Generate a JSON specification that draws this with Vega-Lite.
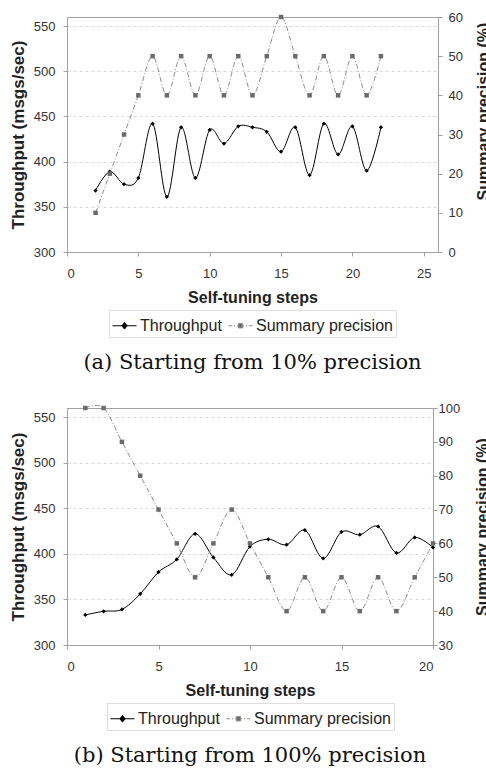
{
  "$schema": "https://vega.github.io/schema/vega-lite/v6.json",
  "background": "white",
  "autosize": {"type": "none"},
  "padding": {"left": 67, "top": 17, "right": 419, "bottom": 751},
  "datasets": {
    "a": [
      {"step": 2, "throughput": 368, "precision": 10},
      {"step": 3, "throughput": 389, "precision": 20},
      {"step": 4, "throughput": 375, "precision": 30},
      {"step": 5, "throughput": 382, "precision": 40},
      {"step": 6, "throughput": 442, "precision": 50},
      {"step": 7, "throughput": 361, "precision": 40},
      {"step": 8, "throughput": 438, "precision": 50},
      {"step": 9, "throughput": 382, "precision": 40},
      {"step": 10, "throughput": 435, "precision": 50},
      {"step": 11, "throughput": 420, "precision": 40},
      {"step": 12, "throughput": 439, "precision": 50},
      {"step": 13, "throughput": 438, "precision": 40},
      {"step": 14, "throughput": 433, "precision": 50},
      {"step": 15, "throughput": 411, "precision": 60},
      {"step": 16, "throughput": 438, "precision": 50},
      {"step": 17, "throughput": 385, "precision": 40},
      {"step": 18, "throughput": 442, "precision": 50},
      {"step": 19, "throughput": 408, "precision": 40},
      {"step": 20, "throughput": 439, "precision": 50},
      {"step": 21, "throughput": 390, "precision": 40},
      {"step": 22, "throughput": 438, "precision": 50}
    ],
    "b": [
      {"step": 1, "throughput": 333, "precision": 100},
      {"step": 2, "throughput": 337, "precision": 100},
      {"step": 3, "throughput": 339, "precision": 90},
      {"step": 4, "throughput": 356, "precision": 80},
      {"step": 5, "throughput": 380, "precision": 70},
      {"step": 6, "throughput": 394, "precision": 60},
      {"step": 7, "throughput": 422, "precision": 50},
      {"step": 8, "throughput": 396, "precision": 60},
      {"step": 9, "throughput": 377, "precision": 70},
      {"step": 10, "throughput": 408, "precision": 60},
      {"step": 11, "throughput": 416, "precision": 50},
      {"step": 12, "throughput": 410, "precision": 40},
      {"step": 13, "throughput": 426, "precision": 50},
      {"step": 14, "throughput": 395, "precision": 40},
      {"step": 15, "throughput": 424, "precision": 50},
      {"step": 16, "throughput": 421, "precision": 40},
      {"step": 17, "throughput": 430, "precision": 50},
      {"step": 18, "throughput": 401, "precision": 40},
      {"step": 19, "throughput": 418, "precision": 50},
      {"step": 20, "throughput": 407, "precision": 60}
    ]
  },
  "config": {
    "font": "Liberation Sans",
    "view": {"stroke": "#a0a0a0"},
    "axis": {
      "labelFont": "Liberation Sans", "labelFontSize": 13, "labelColor": "#333333", "labelOverlap": false,
      "titleFont": "Liberation Sans", "titleFontSize": 16, "titleFontWeight": "bold", "titleColor": "#222222",
      "domainColor": "#a0a0a0", "tickColor": "#a0a0a0", "tickSize": 4,
      "gridColor": "#d8d8d8", "gridDash": [3, 3]
    },
    "legend": {
      "orient": "bottom", "direction": "horizontal", "title": null,
      "labelFont": "Liberation Sans", "labelFontSize": 16, "labelColor": "#222222",
      "strokeColor": "#dddddd", "padding": 3, "symbolSize": 576, "symbolStrokeWidth": 1,
      "columnPadding": 4, "labelOffset": 3, "offset": 5,
      "layout": {"bottom": {"anchor": "middle"}}
    },
    "title": {"font": "DejaVu Serif", "fontSize": 21, "fontWeight": "normal", "color": "#111111"}
  },
  "spacing": 28,
  "resolve": {"scale": {"color": "independent"}, "legend": {"color": "independent"}},
  "vconcat": [
    {
      "width": 371, "height": 235,
      "title": {"text": "(a) Starting from 10% precision", "orient": "bottom", "offset": 14},
      "data": {"name": "a"},
      "resolve": {"scale": {"y": "independent"}},
      "layer": [
        {"layer": [
          {"mark": {"type": "line", "interpolate": "cardinal", "strokeWidth": 1},
           "encoding": {
             "x": {"field": "step", "type": "quantitative", "scale": {"domain": [0, 25]},
                   "axis": {"title": "Self-tuning steps", "values": [0, 5, 10, 15, 20, 25], "tickCount": 12, "grid": false, "labelPadding": 11, "titlePadding": 9, "labelOverlap": false}},
             "y": {"field": "throughput", "type": "quantitative", "scale": {"domain": [300, 550]},
                   "axis": {"title": "Throughput (msgs/sec)", "titleFontSize": 17, "values": [300, 350, 400, 450, 500, 550], "tickCount": 12, "grid": true, "labelPadding": 8, "titlePadding": 6, "labelOverlap": false}},
             "color": {"datum": "Throughput",
                       "scale": {"domain": ["Throughput", "Summary precision"], "range": ["#000000", "#8c8c8c"]},
                       "legend": {"encode": {"symbols": {"update": {
                         "shape": {"signal": "datum.value == 'Throughput' ? 'M-1,0H1M0,-0.28L0.22,0L0,0.28L-0.22,0Z' : 'M-1,0H-0.7M-0.55,0H-0.45M-0.3,0H-0.2M0.2,0H0.3M0.45,0H0.55M0.7,0H1M-0.18,-0.18H0.18V0.18H-0.18Z'"},
                         "fill": {"signal": "datum.value == 'Throughput' ? '#000000' : '#6a6a6a'"},
                         "strokeDash": {"value": []}
                       }}}}}
           }},
          {"mark": {"type": "point", "shape": "diamond", "filled": true, "color": "#000000", "size": 18, "opacity": 1},
           "encoding": {"x": {"field": "step", "type": "quantitative"}, "y": {"field": "throughput", "type": "quantitative"}}}
        ]},
        {"layer": [
          {"mark": {"type": "line", "interpolate": "cardinal", "strokeWidth": 1, "strokeDash": [5, 2, 1, 2]},
           "encoding": {
             "x": {"field": "step", "type": "quantitative"},
             "y": {"field": "precision", "type": "quantitative", "scale": {"domain": [0, 60]},
                   "axis": {"orient": "right", "title": "Summary precision (%)", "values": [0, 10, 20, 30, 40, 50, 60], "tickCount": 12, "grid": false, "labelPadding": 6, "titleAngle": 270, "titlePadding": 29, "titleY": 94, "labelOverlap": false}},
             "color": {"datum": "Summary precision"}
           }},
          {"mark": {"type": "point", "shape": "square", "filled": true, "color": "#6a6a6a", "size": 20, "opacity": 1},
           "encoding": {"x": {"field": "step", "type": "quantitative"}, "y": {"field": "precision", "type": "quantitative"}}}
        ]}
      ]
    },
    {
      "width": 366, "height": 237,
      "title": {"text": "(b) Starting from 100% precision", "orient": "bottom", "offset": 14},
      "data": {"name": "b"},
      "resolve": {"scale": {"y": "independent"}},
      "layer": [
        {"layer": [
          {"mark": {"type": "line", "interpolate": "cardinal", "strokeWidth": 1},
           "encoding": {
             "x": {"field": "step", "type": "quantitative", "scale": {"domain": [0, 20]},
                   "axis": {"title": "Self-tuning steps", "values": [0, 5, 10, 15, 20], "tickCount": 12, "grid": false, "labelPadding": 11, "titlePadding": 9, "labelOverlap": false}},
             "y": {"field": "throughput", "type": "quantitative", "scale": {"domain": [300, 550]},
                   "axis": {"title": "Throughput (msgs/sec)", "titleFontSize": 17, "values": [300, 350, 400, 450, 500, 550], "tickCount": 12, "grid": true, "labelPadding": 8, "titlePadding": 6, "labelOverlap": false}},
             "color": {"datum": "Throughput",
                       "scale": {"domain": ["Throughput", "Summary precision"], "range": ["#000000", "#8c8c8c"]},
                       "legend": {"encode": {"symbols": {"update": {
                         "shape": {"signal": "datum.value == 'Throughput' ? 'M-1,0H1M0,-0.28L0.22,0L0,0.28L-0.22,0Z' : 'M-1,0H-0.7M-0.55,0H-0.45M-0.3,0H-0.2M0.2,0H0.3M0.45,0H0.55M0.7,0H1M-0.18,-0.18H0.18V0.18H-0.18Z'"},
                         "fill": {"signal": "datum.value == 'Throughput' ? '#000000' : '#6a6a6a'"},
                         "strokeDash": {"value": []}
                       }}}}}
           }},
          {"mark": {"type": "point", "shape": "diamond", "filled": true, "color": "#000000", "size": 18, "opacity": 1},
           "encoding": {"x": {"field": "step", "type": "quantitative"}, "y": {"field": "throughput", "type": "quantitative"}}}
        ]},
        {"layer": [
          {"mark": {"type": "line", "interpolate": "cardinal", "strokeWidth": 1, "strokeDash": [5, 2, 1, 2]},
           "encoding": {
             "x": {"field": "step", "type": "quantitative"},
             "y": {"field": "precision", "type": "quantitative", "scale": {"domain": [30, 100]},
                   "axis": {"orient": "right", "title": "Summary precision (%)", "values": [30, 40, 50, 60, 70, 80, 90, 100], "tickCount": 12, "grid": false, "labelPadding": 1, "titleAngle": 270, "titlePadding": 31, "labelOverlap": false}},
             "color": {"datum": "Summary precision"}
           }},
          {"mark": {"type": "point", "shape": "square", "filled": true, "color": "#6a6a6a", "size": 20, "opacity": 1},
           "encoding": {"x": {"field": "step", "type": "quantitative"}, "y": {"field": "precision", "type": "quantitative"}}}
        ]}
      ]
    }
  ]
}
